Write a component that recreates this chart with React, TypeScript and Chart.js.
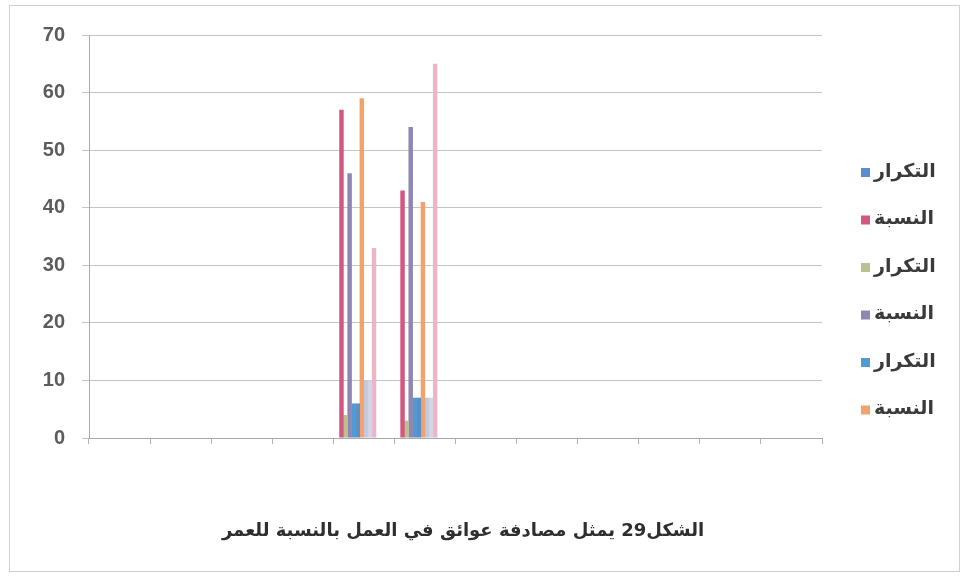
import React, { useEffect, useRef } from "react";
import { Chart, registerables } from "chart.js";

Chart.register(...registerables);

// Twelve age categories along the x axis (no labels printed)
const categories: string[] = ["", "", "", "", "", "", "", "", "", "", "", ""];

// Series labels (frequency / percentage pairs)
const seriesLabels: string[] = [
  "التكرار",
  "النسبة",
  "التكرار",
  "النسبة",
  "التكرار",
  "النسبة",
  "التكرار",
  "النسبة",
  "التكرار",
  "النسبة",
  "التكرار",
  "النسبة",
];

// Values per series (only categories 5 and 6 hold data)
const freqBlue: (number | null)[] = [null, null, null, null, 6, 7, null, null, null, null, null, null];
const pctPink: (number | null)[] = [null, null, null, null, 57, 43, null, null, null, null, null, null];
const freqGreen: (number | null)[] = [null, null, null, null, 4, 3, null, null, null, null, null, null];
const pctPurple: (number | null)[] = [null, null, null, null, 46, 54, null, null, null, null, null, null];
const freqAqua: (number | null)[] = [null, null, null, null, 6, 7, null, null, null, null, null, null];
const pctOrange: (number | null)[] = [null, null, null, null, 59, 41, null, null, null, null, null, null];
const freqLight: (number | null)[] = [null, null, null, null, 10, 7, null, null, null, null, null, null];
const freqLavender: (number | null)[] = [null, null, null, null, 10, 7, null, null, null, null, null, null];
const pctLightPink: (number | null)[] = [null, null, null, null, 33, 65, null, null, null, null, null, null];
const emptySeries: (number | null)[] = [null, null, null, null, null, null, null, null, null, null, null, null];

// Y axis ticks
const yTicks: number[] = [0, 10, 20, 30, 40, 50, 60, 70];

const chartTitle = "الشكل29 يمثل مصادفة عوائق في العمل بالنسبة للعمر";

const seriesValues = [
  freqBlue,
  pctPink,
  freqGreen,
  pctPurple,
  freqAqua,
  pctOrange,
  freqLight,
  freqLavender,
  pctLightPink,
  emptySeries,
  emptySeries,
  emptySeries,
];

const seriesColors = [
  "#5a8fcb",
  "#d2587f",
  "#bdbf90",
  "#8d87b1",
  "#4f9bd0",
  "#f2a26c",
  "#c3c9de",
  "#d4d6e5",
  "#e9b6c8",
  "#cccccc",
  "#cccccc",
  "#cccccc",
];

// Position of each series inside a cluster
const clusterOrder = [4, 0, 1, 2, 3, 5, 6, 7, 8, 9, 10, 11];

const legendCount = 6;

const framePlugin = {
  id: "frameAndText",
  beforeDraw(chart: any) {
    const ctx = chart.ctx;
    ctx.save();
    ctx.fillStyle = "#ffffff";
    ctx.fillRect(0, 0, chart.width, chart.height);
    ctx.strokeStyle = "#d0d0d0";
    ctx.lineWidth = 1;
    ctx.strokeRect(9.5, 5.5, 950, 566);
    ctx.restore();
  },
  afterDraw(chart: any) {
    const ctx = chart.ctx;
    const area = chart.chartArea;
    ctx.save();
    // legend on the right
    const datasets = chart.data.datasets.slice(0, legendCount);
    ctx.font = "bold 19px 'DejaVu Sans'";
    ctx.textBaseline = "middle";
    ctx.textAlign = "left";
    datasets.forEach((ds: any, i: number) => {
      const y = 172 + i * 47.5;
      const bx = area.right + 39;
      ctx.fillStyle = ds.backgroundColor;
      ctx.fillRect(bx, y - 4, 9, 9);
      ctx.fillStyle = "#3a3a3a";
      ctx.fillText(ds.label, bx + 13, y);
    });
    // caption under the plot (right-to-left)
    ctx.direction = "rtl";
    ctx.font = "bold 18px 'DejaVu Sans'";
    ctx.fillStyle = "#2e2e2e";
    ctx.textAlign = "center";
    ctx.fillText(chartTitle, 463, 531);
    ctx.restore();
  },
};

export default function App() {
  const canvasRef = useRef<HTMLCanvasElement | null>(null);

  useEffect(() => {
    if (!canvasRef.current) return;
    const datasets = seriesValues.map((values, i) => ({
      label: seriesLabels[i],
      data: values,
      backgroundColor: seriesColors[i],
      borderWidth: 0,
      order: clusterOrder[i],
      categoryPercentage: 0.8,
      barPercentage: 1.1,
    }));

    const chart = new Chart(canvasRef.current, {
      type: "bar",
      data: { labels: categories, datasets },
      plugins: [framePlugin],
      options: {
        responsive: false,
        animation: false,
        layout: { padding: { left: 0, right: 144, top: 35, bottom: 134 } },
        plugins: {
          legend: { display: false },
          title: { display: false },
          tooltip: { enabled: false },
        },
        scales: {
          x: {
            grid: {
              display: true,
              drawOnChartArea: false,
              drawTicks: true,
              tickLength: 6,
              color: "#b4b4b4",
              offset: true,
            },
            border: { display: true, color: "#a8a8a8" },
            ticks: { display: false },
            afterFit: (scale: any) => {
              scale.height = 10;
            },
          },
          y: {
            min: 0,
            max: 70,
            afterBuildTicks: (scale: any) => {
              scale.ticks = yTicks.map((v) => ({ value: v }));
            },
            grid: {
              color: "#c4c4c4",
              tickLength: 7,
              drawTicks: true,
            },
            border: { display: true, color: "#a8a8a8" },
            ticks: {
              padding: 17,
              color: "#5c5c5c",
              font: { family: "'Liberation Sans', Arial, sans-serif", size: 20, weight: "bold" },
            },
            afterFit: (scale: any) => {
              scale.width = 89;
            },
          },
        },
      },
    });
    return () => chart.destroy();
  }, []);

  return (
    <div style={{ position: "fixed", left: 0, top: 0, width: 966, height: 582, background: "#fff" }}>
      <canvas ref={canvasRef} width={966} height={582} style={{ width: 966, height: 582 }} />
    </div>
  );
}
